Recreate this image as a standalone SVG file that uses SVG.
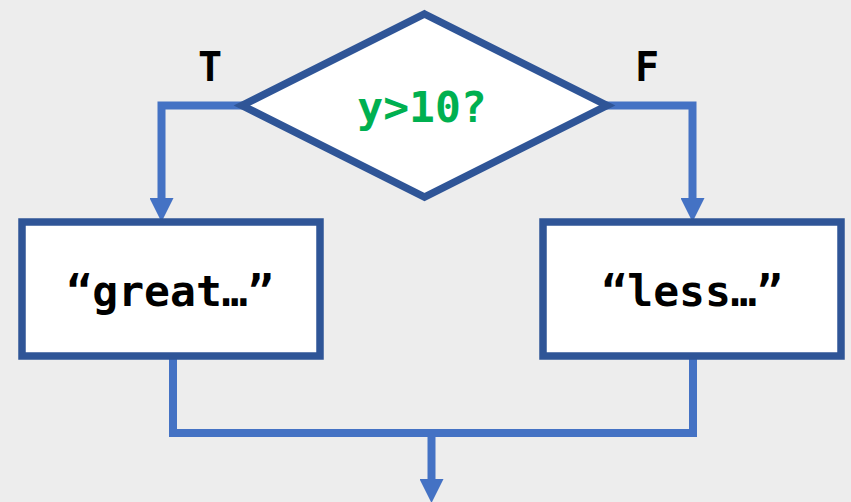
<svg xmlns="http://www.w3.org/2000/svg" width="851" height="502" viewBox="0 0 851 502">
  <style>
    .conn { fill: none; stroke: #4472c4; stroke-width: 8; }
    .shape { fill: #ffffff; stroke: #2f5597; stroke-width: 7.5; }
    .mono { font-family: "DejaVu Sans Mono", "Liberation Mono", monospace; font-weight: bold; text-anchor: middle; }
    .lbl { font-size: 40px; fill: #000000; }
    .box { font-size: 43px; fill: #000000; }
    .cond { font-size: 43px; fill: #00b050; }
  </style>
  <defs>
    <marker id="arrow" markerUnits="userSpaceOnUse" viewBox="0 0 24 24" markerWidth="24" markerHeight="24" refX="0" refY="12" orient="auto">
      <path d="M0,0 L24,12 L0,24 Z" fill="#4472c4"/>
    </marker>
  </defs>
  <rect x="0" y="0" width="851" height="502" fill="#ededed"/>
  <g id="connectors">
    <polyline class="conn" points="243,105.5 161.5,105.5 161.5,198" marker-end="url(#arrow)"/>
    <polyline class="conn" points="606,105.5 692.5,105.5 692.5,198" marker-end="url(#arrow)"/>
    <polyline class="conn" points="173,356 173,433 693,433 693,356"/>
    <polyline class="conn" points="431.5,433 431.5,479" marker-end="url(#arrow)"/>
  </g>
  <g id="decision">
    <polygon class="shape" points="424.5,14 607,105.5 424.5,197 242,105.5"/>
    <text class="mono cond" x="422" y="122">y&gt;10?</text>
  </g>
  <g id="label-true">
    <text class="mono lbl" x="210" y="81">T</text>
  </g>
  <g id="label-false">
    <text class="mono lbl" x="647" y="81">F</text>
  </g>
  <g id="box-great">
    <rect class="shape" x="22" y="222" width="298" height="134"/>
    <text class="mono box" x="170" y="306">“great…”</text>
  </g>
  <g id="box-less">
    <rect class="shape" x="543" y="222" width="298" height="134"/>
    <text class="mono box" x="692" y="306">“less…”</text>
  </g>
</svg>
